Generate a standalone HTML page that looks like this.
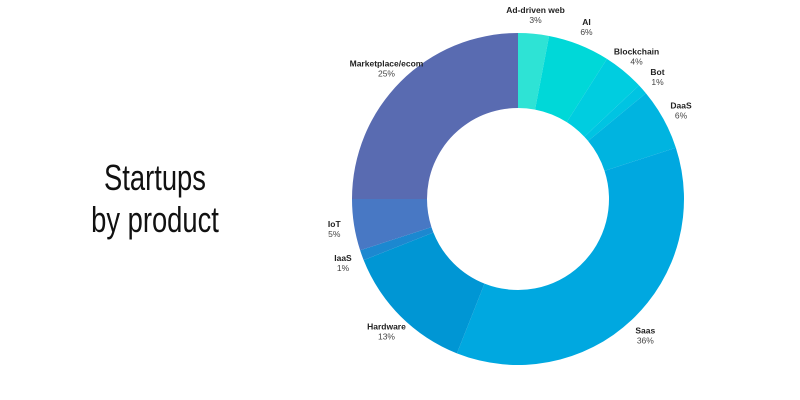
<!DOCTYPE html>
<html><head><meta charset="utf-8"><style>
body{margin:0;background:#fff;width:800px;height:400px;overflow:hidden}
svg{display:block}
</style></head><body>
<svg id="chart" width="800" height="400" xmlns="http://www.w3.org/2000/svg">
<g font-family="Liberation Sans, sans-serif" font-size="36" fill="#111" text-anchor="middle">
<text x="155" y="190" transform="translate(155 0) scale(0.76 1) translate(-155 0)">Startups</text>
<text x="155" y="232" transform="translate(155 0) scale(0.76 1) translate(-155 0)">by product</text>
</g>
<g id="slices"></g>
<g id="labels" font-family="Liberation Sans, sans-serif" font-size="8.5" text-anchor="middle"></g>
</svg>
<script>
const categories=["Ad-driven web","AI","Blockchain","Bot","DaaS","Saas","Hardware","IaaS","IoT","Marketplace/ecom"];
const values=[3,6,4,1,6,36,13,1,5,25];
const colors=["#2ee3d5","#00d8d8","#00cde0","#00c4e2","#00b4e0","#00a8e0","#0096d4","#1c88d0","#4878c4","#596bb1"];
const cx=518,cy=199,R=166,r=91,LR=186;
const total=values.reduce((a,b)=>a+b,0);
const ns="http://www.w3.org/2000/svg";
const gS=document.getElementById('slices'),gL=document.getElementById('labels');
function pt(a,rad){return [cx+rad*Math.sin(a),cy-rad*Math.cos(a)];}
let acc=0;
values.forEach((v,i)=>{
  const a0=acc/total*2*Math.PI;acc+=v;const a1=acc/total*2*Math.PI;
  const large=(a1-a0)>Math.PI?1:0;
  const p0=pt(a0,R),p1=pt(a1,R),q1=pt(a1,r),q0=pt(a0,r);
  const p=document.createElementNS(ns,'path');
  p.setAttribute('d',`M${p0[0]},${p0[1]}A${R},${R} 0 ${large} 1 ${p1[0]},${p1[1]}L${q1[0]},${q1[1]}A${r},${r} 0 ${large} 0 ${q0[0]},${q0[1]}Z`);
  p.setAttribute('fill',colors[i]);
  
  
  gS.appendChild(p);
  const am=(a0+a1)/2;const l=pt(am,LR);
  const g=document.createElementNS(ns,'g');
  
  
  const t1=document.createElementNS(ns,'text');t1.setAttribute('x',l[0]);t1.setAttribute('y',l[1]-1);t1.setAttribute('font-weight','bold');t1.setAttribute('fill','#222');t1.textContent=categories[i];
  const t2=document.createElementNS(ns,'text');t2.setAttribute('x',l[0]);t2.setAttribute('y',l[1]+9);t2.setAttribute('fill','#444');t2.textContent=v+'%';
  g.appendChild(t1);g.appendChild(t2);gL.appendChild(g);
});
</script>
</body></html>
